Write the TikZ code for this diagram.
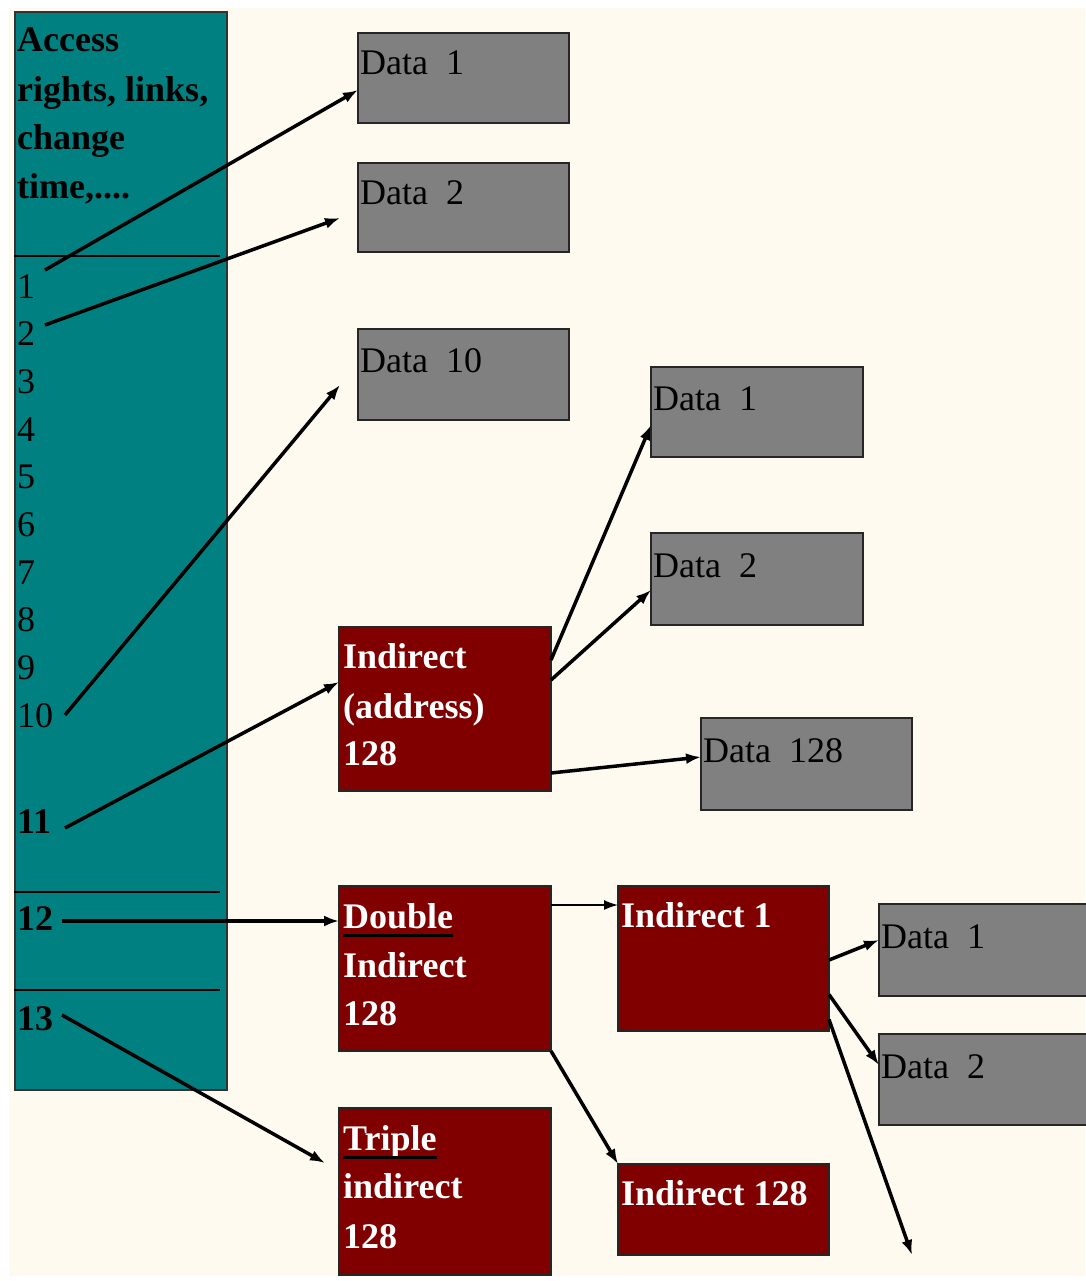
\documentclass[tikz,border=0pt]{standalone}
\usepackage{fontspec}
\setmainfont{Liberation Serif}
\usetikzlibrary{arrows.meta}
\definecolor{cream}{HTML}{FFFAF0}
\definecolor{tealc}{HTML}{008080}
\definecolor{grayc}{HTML}{808080}
\definecolor{redc}{HTML}{800000}
\begin{document}
\begin{tikzpicture}[x=1pt,y=-1pt,
  databox/.style={draw=black!85, line width=1.8pt, fill=grayc, anchor=north west, inner sep=0pt, outer sep=0pt},
  redbox/.style={draw=black!85, line width=1.8pt, fill=redc, anchor=north west, inner sep=0pt, outer sep=0pt},
  txt/.style={anchor=base west, inner sep=0pt, font=\fontsize{36}{49}\selectfont},
  btxt/.style={txt, font=\fontsize{36}{49}\selectfont\bfseries},
  wtxt/.style={btxt, text=white},
  ptr/.style={line width=3.5pt, -{Latex[length=15pt,width=11pt]}},
  thinptr/.style={line width=1.6pt, -{Latex[length=14pt,width=10pt]}},
  sepline/.style={line width=2pt},
  uline/.style={line width=3pt},
]
\useasboundingbox (0,0) rectangle (1085,1281);
\fill[cream] (9,8) rectangle (1085,1276);

% inode column
\node[draw=black!80, line width=1.8pt, fill=tealc, anchor=north west, inner sep=0pt,
      minimum width=212pt, minimum height=1078pt] (col) at (14,11) {};
\draw[sepline] (14,256) -- (220,256);
\draw[sepline] (14,892) -- (220,892);
\draw[sepline] (14,990) -- (220,990);

\node[btxt] (h1) at (17,52) {Access};
\node[btxt] (h2) at (17,102) {rights, links,};
\node[btxt] (h3) at (17,150) {change};
\node[btxt] (h4) at (17,199) {time,....};

\node[txt] (n1) at (17,298) {1};
\node[txt] (n2) at (17,345.7) {2};
\node[txt] (n3) at (17,393.4) {3};
\node[txt] (n4) at (17,441.1) {4};
\node[txt] (n5) at (17,488.8) {5};
\node[txt] (n6) at (17,536.5) {6};
\node[txt] (n7) at (17,584.2) {7};
\node[txt] (n8) at (17,631.9) {8};
\node[txt] (n9) at (17,679.6) {9};
\node[txt] (n10) at (17,727.3) {10};
\node[btxt] (n11) at (17,833) {11};
\node[btxt] (n12) at (17,930) {12};
\node[btxt] (n13) at (17,1030) {13};

% data boxes
\node[databox, minimum width=211pt, minimum height=90pt] (d1) at (358,33) {};
\node[databox, minimum width=211pt, minimum height=89pt] (d2) at (358,163) {};
\node[databox, minimum width=211pt, minimum height=91pt] (d10) at (358,329) {};
\node[databox, minimum width=212pt, minimum height=90pt] (e1) at (651,367) {};
\node[databox, minimum width=212pt, minimum height=92pt] (e2) at (651,533) {};
\node[databox, minimum width=211pt, minimum height=92pt] (e128) at (701,718) {};
\node[databox, minimum width=220pt, minimum height=92pt] (f1) at (879,904) {};
\node[databox, minimum width=220pt, minimum height=91pt] (f2) at (879,1034) {};

\node[txt] (d1t) at (360,75) {Data\ \ 1};
\node[txt] (d2t) at (360,205) {Data\ \ 2};
\node[txt] (d10t) at (360,372) {Data\ \ 10};
\node[txt] (e1t) at (653,410) {Data\ \ 1};
\node[txt] (e2t) at (653,577) {Data\ \ 2};
\node[txt] (e128t) at (703,762) {Data\ \ 128};
\node[txt] (f1t) at (881,948) {Data\ \ 1};
\node[txt] (f2t) at (881,1078) {Data\ \ 2};

% indirect boxes
\node[redbox, minimum width=212pt, minimum height=164pt] (ia) at (339,627) {};
\node[redbox, minimum width=212pt, minimum height=165pt] (dbl) at (339,886) {};
\node[redbox, minimum width=212pt, minimum height=167pt] (tri) at (339,1108) {};
\node[redbox, minimum width=211pt, minimum height=145pt] (i1) at (618,886) {};
\node[redbox, minimum width=211pt, minimum height=91pt] (i128) at (618,1164) {};

\node[wtxt] (ia1) at (343,668) {Indirect};
\node[wtxt] (ia2) at (343,718) {(address)};
\node[wtxt] (ia3) at (343,765) {128};
\node[wtxt] (db1) at (343,928) {Double};
\node[wtxt] (db2) at (343,977) {Indirect};
\node[wtxt] (db3) at (343,1025) {128};
\node[wtxt] (tr1) at (343,1150) {Triple};
\node[wtxt] (tr2) at (343,1198) {indirect};
\node[wtxt] (tr3) at (343,1248) {128};
\node[wtxt] (i1t) at (621,927) {Indirect 1};
\node[wtxt] (i128t) at (621,1205) {Indirect 128};

\draw[uline] ([yshift=-7pt]db1.base west) -- ([yshift=-7pt]db1.base east);
\draw[uline] ([yshift=-7pt]tr1.base west) -- ([yshift=-7pt]tr1.base east);

% pointer start points
\coordinate (s1) at (45,270);
\coordinate (s2) at (45,325);
\coordinate (s10) at (65,715);
\coordinate (s11) at (65,828);
\coordinate (s12) at (62,921);
\coordinate (s13) at (62,1015);
\coordinate (g3end) at (912,1255);

\draw[ptr] (s1) -- ([yshift=-12pt]d1.west);
\draw[ptr] (s2) -- ([xshift=-18pt,yshift=-10.5pt]d2.west);
\draw[ptr] (s10) -- ([xshift=-18pt,yshift=-10.5pt]d10.west);
\draw[ptr] (s11) -- ([yshift=27pt]ia.west);
\draw[ptr] (s12) -- (s12 -| dbl.west);
\draw[ptr] (s13) -- ([xshift=-14pt,yshift=28.5pt]tri.west);

\draw[ptr] ([yshift=49pt]ia.east) -- ([yshift=-13pt]e1.west);
\draw[ptr] ([yshift=29pt]ia.east) -- ([yshift=-11pt]e2.west);
\draw[ptr] ([yshift=-64pt]ia.east) -- ([yshift=7pt]e128.west);

\draw[thinptr] ([yshift=-19pt]dbl.north east) -- ([yshift=-19pt]i1.north west);
\draw[ptr] (dbl.south east) -- (i128.north west);

\draw[ptr] ([yshift=-1.5pt]i1.east) -- ([yshift=10pt]f1.west);
\draw[ptr] ([yshift=-36pt]i1.east) -- ([yshift=14.5pt]f2.west);
\draw[ptr] ([yshift=-61pt]i1.east) -- (g3end);
\end{tikzpicture}
\end{document}
